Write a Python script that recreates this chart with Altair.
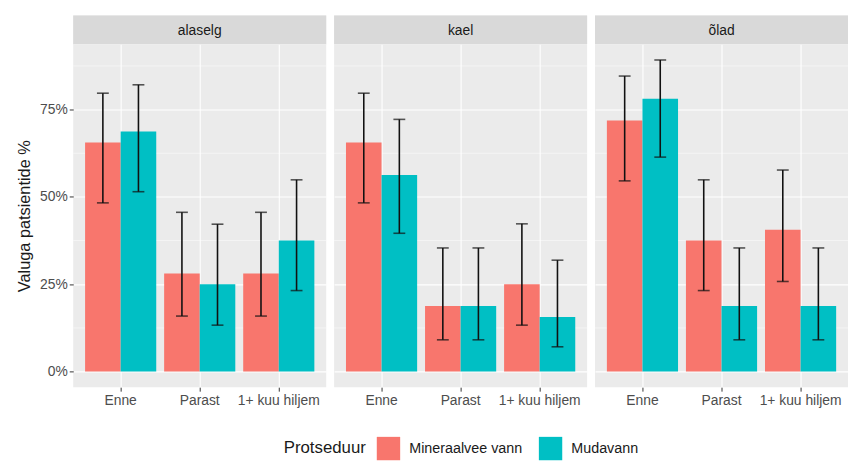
import altair as alt
import pandas as pd

facets = ["alaselg", "kael", "õlad"]
times = ["Enne", "Parast", "1+ kuu hiljem"]
groups = ["Mineraalvee vann", "Mudavann"]
colors = ["#F8766D", "#00BFC4"]

# values in percent, order per facet: (Enne red, Enne teal, Parast red, Parast teal, 1+ red, 1+ teal)
alaselg_val = [65.6, 68.75, 28.1, 25.0, 28.1, 37.5]
alaselg_lo = [48.3, 51.5, 15.9, 13.3, 15.9, 23.2]
alaselg_hi = [79.7, 82.1, 45.6, 42.2, 45.6, 54.9]

kael_val = [65.6, 56.25, 18.75, 18.75, 25.0, 15.6]
kael_lo = [48.3, 39.6, 9.1, 9.1, 13.3, 7.1]
kael_hi = [79.7, 72.2, 35.4, 35.4, 42.3, 31.9]

olad_val = [71.9, 78.1, 37.5, 18.75, 40.6, 18.75]
olad_lo = [54.6, 61.4, 23.2, 9.1, 25.8, 9.1]
olad_hi = [84.6, 89.2, 54.9, 35.4, 57.7, 35.4]

y_ticks = [0, 0.25, 0.5, 0.75]
y_minor = [0.125, 0.375, 0.625, 0.875]

series = {
    "alaselg": (alaselg_val, alaselg_lo, alaselg_hi),
    "kael": (kael_val, kael_lo, kael_hi),
    "õlad": (olad_val, olad_lo, olad_hi),
}

rows = []
for f in facets:
    v, lo, hi = series[f]
    i = 0
    for t in times:
        for g in groups:
            rows.append({"facet": f, "time": t, "group": g,
                         "value": v[i] / 100, "lo": lo[i] / 100, "hi": hi[i] / 100})
            i += 1
df = pd.DataFrame(rows)

FONT = "Liberation Sans"
W = 256
H = 347
SH = 29

ydomain = [-0.0446, 0.937]


def panel(f, first):
    d = df[df.facet == f]
    base = alt.Chart(d)
    xenc = alt.X("time:N", sort=times, title=None,
                 scale=alt.Scale(paddingInner=0.1, paddingOuter=0.15),
                 axis=alt.Axis(bandPosition=0.5, grid=True, gridColor="white",
                               gridWidth=1.1, labelAngle=0, domain=False,
                               tickColor="#333333", tickSize=4, labelPadding=3,
                               labelFontSize=14, labelColor="#4D4D4D", labelFont=FONT))
    xoff = alt.XOffset("group:N", sort=groups,
                       scale=alt.Scale(paddingInner=0, paddingOuter=0))
    if first:
        yaxis = alt.Axis(values=y_ticks, format=".0%", grid=True, gridColor="white",
                         gridWidth=1.1, domain=False, tickColor="#333333", tickSize=4,
                         labelFontSize=14, labelColor="#4D4D4D", labelFont=FONT,
                         labelPadding=2, title="Valuga patsientide %",
                         titleFontSize=16.5, titleFont=FONT, titleColor="#1A1A1A",
                         titleFontWeight="normal", titlePadding=7)
    else:
        yaxis = alt.Axis(values=y_ticks, grid=True, gridColor="white", gridWidth=1.1,
                         domain=False, ticks=False, labels=False, title=None)
    yscale = alt.Scale(domain=ydomain, nice=False, zero=False)

    minor = alt.Chart(pd.DataFrame({"m": y_minor})).mark_rule(
        color="white", strokeWidth=0.5).encode(
        y=alt.Y("m:Q", scale=yscale, axis=yaxis))

    bars = base.mark_bar().encode(
        x=xenc, xOffset=xoff,
        y=alt.Y("value:Q", scale=yscale, axis=yaxis),
        y2=alt.value(H - 0.0446 / (ydomain[1] - ydomain[0]) * H),
        color=alt.Color("group:N", sort=groups,
                        scale=alt.Scale(domain=groups, range=colors),
                        legend=alt.Legend(title="Protseduur", orient="none",
                                          legendX=213, legendY=426,
                                          direction="horizontal", titleOrient="left",
                                          symbolType="square", symbolSize=560,
                                          symbolStrokeWidth=0, titleFontSize=17,
                                          titleFont=FONT, titleColor="#1A1A1A",
                                          titleFontWeight="normal", labelFontSize=14.5,
                                          labelFont=FONT, labelColor="#1A1A1A",
                                          titlePadding=10, columnPadding=16,
                                          labelOffset=9, symbolOpacity=1)),
    )
    rule = base.mark_rule(color="#111111", strokeWidth=1.6).encode(
        x=xenc, xOffset=xoff,
        y=alt.Y("lo:Q", scale=yscale), y2="hi:Q")
    cap_lo = base.mark_tick(color="#111111", thickness=1.6, size=12).encode(
        x=xenc, xOffset=xoff, y=alt.Y("lo:Q", scale=yscale))
    cap_hi = base.mark_tick(color="#111111", thickness=1.6, size=12).encode(
        x=xenc, xOffset=xoff, y=alt.Y("hi:Q", scale=yscale))

    main = alt.layer(minor, bars, rule, cap_lo, cap_hi).properties(width=W, height=H)

    sd = pd.DataFrame({"f": [f]})
    strip_rect = alt.Chart(sd).mark_rect(color="#D9D9D9").encode(
        x=alt.value(0), x2=alt.value(W), y=alt.value(0), y2=alt.value(SH))
    strip_text = alt.Chart(sd).mark_text(font=FONT, fontSize=14, color="#1A1A1A").encode(
        x=alt.value(W / 2), y=alt.value(SH / 2 + 1), text="f:N")
    strip = alt.layer(strip_rect, strip_text).properties(width=W, height=SH)

    return alt.vconcat(strip, main, spacing=0)


chart = alt.hconcat(*[panel(f, i == 0) for i, f in enumerate(facets)], spacing=6).properties(
    padding={"left": 8, "top": 5, "right": 0, "bottom": 0}
).configure_view(fill="#EBEBEB", stroke=None).configure_axis(labelFont=FONT, titleFont=FONT)

chart.save("out.html", embed_options={"renderer": "svg", "actions": False})
